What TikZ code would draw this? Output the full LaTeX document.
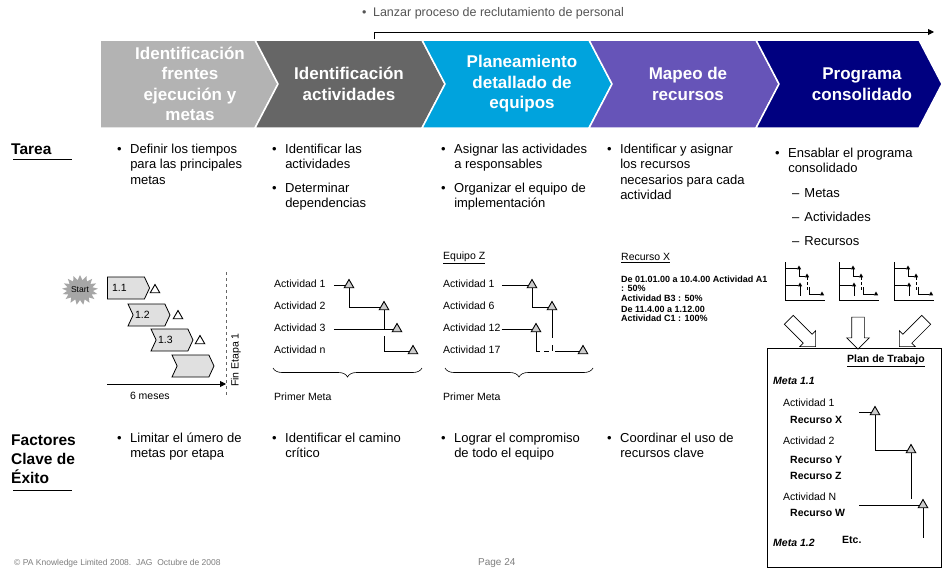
\documentclass[tikz,border=0pt]{standalone}
\usepackage{fontspec}
\setmainfont{Liberation Sans}
\usetikzlibrary{positioning,calc,arrows.meta,shapes.geometric,shapes.symbols,shapes.arrows,decorations.pathreplacing}
\definecolor{phA}{HTML}{B3B3B3}
\definecolor{phB}{HTML}{666666}
\definecolor{phC}{HTML}{00A3DD}
\definecolor{phD}{HTML}{6654B8}
\definecolor{phE}{HTML}{000080}
\definecolor{lzgray}{HTML}{555555}
\definecolor{foot}{HTML}{7F7F7F}
\definecolor{burst}{HTML}{A6A6A6}
\definecolor{gfill}{HTML}{E0E0E0}
\newcommand{\fsz}[2]{\fontsize{#1}{#2}\selectfont}
\newcommand{\bitem}[1]{\begin{tabular}{@{}l@{\hspace{8.5pt}}l@{}}\textbullet&\begin{tabular}[t]{@{}l@{}}#1\end{tabular}\end{tabular}}
\tikzset{
  phase/.style={fill=#1,draw=white,line width=1.5pt},
  phasetext/.style={text=white,font=\fsz{17}{20.5}\bfseries,align=center,inner sep=0pt},
  bul/.style={anchor=north west,inner sep=0pt,font=\fsz{13}{15.5}},
  rowhead/.style={anchor=north west,inner sep=0pt,font=\fsz{15.5}{19}\bfseries},
  lbl/.style={anchor=west,inner sep=0pt,font=\fsz{10.5}{12}},
  mstone/.style={regular polygon,regular polygon sides=3,draw,line width=0.9pt,fill=#1,
                 minimum size=11pt,inner sep=0pt},
  mstone/.default=black!20,
  minitri/.style={regular polygon,regular polygon sides=3,fill=black,minimum size=5pt,inner sep=0pt},
  gbox/.style={signal,draw,line width=0.8pt,fill=gfill,signal to=east,signal pointer angle=130,
               minimum width=42pt,minimum height=22pt,inner sep=0pt,font=\fsz{10.5}{12},
               text width=28pt,align=left},
  blockarrow/.style={single arrow,draw,line width=0.6pt,fill=white,
                     single arrow head extend=5pt,inner xsep=0pt,inner ysep=6pt},
  curly/.style={decorate,decoration={brace,amplitude=9pt,mirror},line width=0.6pt},
  link/.style={line width=0.8pt},
}
\begin{document}
\begin{tikzpicture}[x=1pt,y=-1pt]
  \useasboundingbox[fill=white] (0,0) rectangle (942,570);

  % phases
  \foreach \xl/\xr/\nt/\col/\cx/\txt [count=\i] in {
    100/255/0/phA/190/{Identificación\\frentes\\ejecución y\\metas},
    255/422/23/phB/349/{Identificación\\actividades},
    422/589/23/phC/522/{Planeamiento\\detallado de\\equipos},
    589/756/23/phD/688/{Mapeo de\\recursos},
    756/919/23/phE/862/{Programa\\consolidado}}{
    \draw[phase=\col] (\xl,40) -- (\xr,40) -- (\xr+23,84) -- (\xr,128) -- (\xl,128) -- (\xl+\nt,84) -- cycle;
    \node[phasetext] (ph\i) at (\cx,84) {\txt};
  }

  % recruiting arrow
  \node[anchor=west,inner sep=0pt,font=\fsz{12.5}{15},text=lzgray] (lanzar) at (362,13)
    {\textbullet\hspace{6.5pt}Lanzar proceso de reclutamiento de personal};
  \coordinate (lz0) at (374,39);
  \coordinate (lz1) at (934,32);
  \draw[-{Triangle[length=6pt,width=6pt]},line width=0.9pt] (lz0) |- (lz1);

  % row heads
  \node[rowhead,anchor=west] (tarea) at (11,149) {Tarea};
  \draw[line width=1pt] (13,159) -- (72,159);
  \node[rowhead] (factores) at (11,432) {\begin{tabular}{@{}l@{}}Factores\\Clave de\\Éxito\end{tabular}};
  \draw[line width=1pt] (13,490) -- (72,490);

  % bullets
  \foreach \x/\y/\body [count=\i] in {
    117/148/{Definir los tiempos\\para las principales\\metas},
    272/148/{Identificar las\\actividades},
    272/187/{Determinar\\dependencias},
    441/148/{Asignar las actividades\\a responsables},
    441/187/{Organizar el equipo de\\implementación},
    607/148/{Identificar y asignar\\los recursos\\necesarios para cada\\actividad},
    775/152/{Ensablar el programa\\consolidado},
    117/437/{Limitar el úmero de\\metas por etapa},
    272/437/{Identificar el camino\\crítico},
    441/437/{Lograr el compromiso\\de todo el equipo},
    607/437/{Coordinar el uso de\\recursos clave}}{
    \node[bul] (pt\i) at (\x,\y-6) {\bitem{\body}};
  }
  \foreach \y/\w [count=\i] in {192/Metas,216/Actividades,240/Recursos}
    \node[bul] (sub\i) at (792,\y-6) {\begin{tabular}{@{}l@{\hspace{5pt}}l@{}}–&\w\end{tabular}};

  % stage 1 gantt
  \node[starburst,fill=burst,starburst points=17,starburst point height=5pt,random starburst=0,
        minimum width=36pt,minimum height=30pt,inner sep=0pt,font=\fsz{8.5}{10}] (start) at (80,290) {Start};
  \node[gbox,signal from=nowhere] (g1) at (126,288) {1.1};
  \node[gbox,signal from=west] (g2) at (149,315) {1.2};
  \node[gbox,signal from=west] (g3) at (172,340) {1.3};
  \node[gbox,signal from=west] (g4) at (193,366) {};
  \node[mstone=white] (m1) at (155,290) {};
  \node[mstone=white] (m2) at (178,316) {};
  \node[mstone=white] (m3) at (200,341) {};
  \coordinate (six0) at (107,384);
  \coordinate (six1) at (226,384);
  \draw[-{Triangle[length=6pt,width=6pt]},line width=0.9pt] (six0) -- (six1)
    node[pos=0.36,below=4pt,font=\fsz{10.5}{12}] (sixlbl) {6 meses};
  \coordinate (fin0) at (226,272);
  \coordinate (fin1) at (226,396);
  \draw[dashed,line width=0.9pt,black!60] (fin0) -- (fin1);
  \node[rotate=90,inner sep=0pt,font=\fsz{10.5}{12}] (fin) at (236,360) {Fin Etapa 1};

  % activities
  \foreach \n/\y in {1/284,2/306,3/328,n/350}
    \node[lbl] (a\n) at (274,\y) {Actividad \n};
  \node[mstone] (t1) at (349,285) {};
  \node[mstone] (t2) at (384,307) {};
  \node[mstone] (t3) at (397,329) {};
  \node[mstone] (t4) at (413,351) {};
  \draw[link] ([xshift=8pt]t1.west -| a1.east) -- (t1.west);
  \draw[link] (t1.south) |- (t2.west);
  \draw[link] ([xshift=8pt]t3.west -| a3.east) -- (t3.west);
  \draw[link] (t2.south) -- (t2.south |- t3.west);
  \draw[link] ($(t2.south |- t3.west)+(0,7)$) |- (t4.west);
  \draw[curly] (273,368) -- (422,368);
  \node[lbl] (meta1) at (274,397) {Primer Meta};

  % team
  \node[lbl] (eqz) at (443,258) {\underline{Equipo Z}};
  \foreach \n/\y [count=\i] in {1/284,6/306,12/328,17/350}
    \node[lbl] (e\i) at (443,\y) {Actividad \n};
  \node[mstone] (u1) at (532,285) {};
  \node[mstone] (u2) at (552,307) {};
  \node[mstone] (u3) at (536,329) {};
  \node[mstone] (u4) at (583,351) {};
  \draw[link] ([xshift=7pt]u1.west -| e1.east) -- (u1.west);
  \draw[link] (u1.south) |- (u2.west);
  \draw[link] ([xshift=1pt]u3.west -| e3.east) -- (u3.west);
  \draw[link] (u2.south) -- ($(u2.south |- u4.west)+(0,-13)$);
  \draw[link] ($(u2.south |- u4.west)+(0,-6)$) -- (u2.south |- u4.west);
  \draw[link] (u3.south) -- (u3.south |- u4.west) -- ++(4,0);
  \draw[link] ($(u3.south |- u4.west)+(8,0)$) -- ++(5,0);
  \draw[link] ($(u2.south |- u4.west)+(3,0)$) -- (u4.west);
  \draw[curly] (445,368) -- (593,368);
  \node[lbl] (meta2) at (443,397) {Primer Meta};

  % resource
  \node[lbl] (recx) at (621,258) {\underline{Recurso X}};
  \node[anchor=north west,inner sep=0pt,align=left,font=\fsz{9}{9.6}\bfseries] (recxt) at (621,275.5)
    {De 01.01.00 a 10.4.00 Actividad A1\\: 50\%\\Actividad B3 : 50\%\\[1.2pt]De 11.4.00 a 1.12.00\\Actividad C1 : 100\%};

  % mini charts
  \foreach \cx [count=\i] in {785,839,894}{
    \draw[line width=0.7pt] (\cx,262) -- (\cx,300) -- (\cx+40,300);
    \node[minitri] (ka\i) at (\cx+14,268) {};
    \node[minitri] (kb\i) at (\cx+22,276) {};
    \node[minitri] (kc\i) at (\cx+15,285) {};
    \node[minitri] (kd\i) at (\cx+37,294) {};
    \draw[line width=0.6pt] (\cx,268) -- (ka\i.west);
    \draw[line width=0.6pt] (ka\i.south) |- (kb\i.west);
    \draw[line width=0.6pt] (\cx,285) -- (kc\i.west);
    \draw[line width=0.6pt] (kc\i.south) -- (\cx+15,296);
    \draw[line width=0.6pt,densely dashed] (kb\i.south) -- (\cx+22,292);
    \draw[line width=0.6pt] (\cx+24,287) |- (kd\i.west);
  }
  \node[blockarrow,minimum height=38pt,rotate=-45] (ba1) at (800,331) {};
  \node[blockarrow,minimum height=32pt,rotate=-90] (ba2) at (858,330) {};
  \node[blockarrow,minimum height=38pt,rotate=-135] (ba3) at (915,331) {};

  % work plan
  \node[draw,line width=0.8pt,anchor=north west,minimum width=174pt,minimum height=219pt,inner sep=0pt]
    (plan) at (767,348) {};
  \node[lbl,font=\fsz{10.5}{12}\bfseries] (plantit) at (847,361) {\underline{Plan de Trabajo}};
  \node[lbl,font=\fsz{10.5}{12}\bfseries\itshape] (meta11) at (773,381) {Meta 1.1};
  \node[lbl,font=\fsz{10.5}{12}\bfseries\itshape] (meta12) at (773,543) {Meta 1.2};
  \node[lbl,font=\fsz{10.5}{12}\bfseries] (etc) at (842,540) {Etc.};
  \foreach \y/\n in {403/1,441/2,497/N}
    \node[lbl] (pa\n) at (783,\y) {Actividad \n};
  \foreach \y/\n in {420/X,460/Y,476/Z,513/W}
    \node[lbl,font=\fsz{10.5}{12}\bfseries] (pr\n) at (790,\y) {Recurso \n};
  \node[mstone] (p1) at (875,412) {};
  \node[mstone] (p2) at (911,450) {};
  \node[mstone] (p3) at (923,505) {};
  \coordinate (q0) at (859,0);
  \draw[link] (q0 |- p1.west) -- (p1.west);
  \draw[link] (p1.south) |- (p2.west);
  \draw[link] (p2.south) -- ($(p2.south |- p3.west)+(0,-6)$);
  \draw[link] (q0 |- p3.west) -- (p3.west);
  \draw[link] (p3.south) -- ++(0,30);

  % footer
  \node[anchor=west,inner sep=0pt,font=\fsz{8.5}{10},text=foot] (copy) at (14,563)
    {© PA Knowledge Limited 2008.\ \ JAG\ \ Octubre de 2008};
  \node[anchor=west,inner sep=0pt,font=\fsz{10}{12},text=foot] (page) at (478,563) {Page 24};
\end{tikzpicture}
\end{document}
